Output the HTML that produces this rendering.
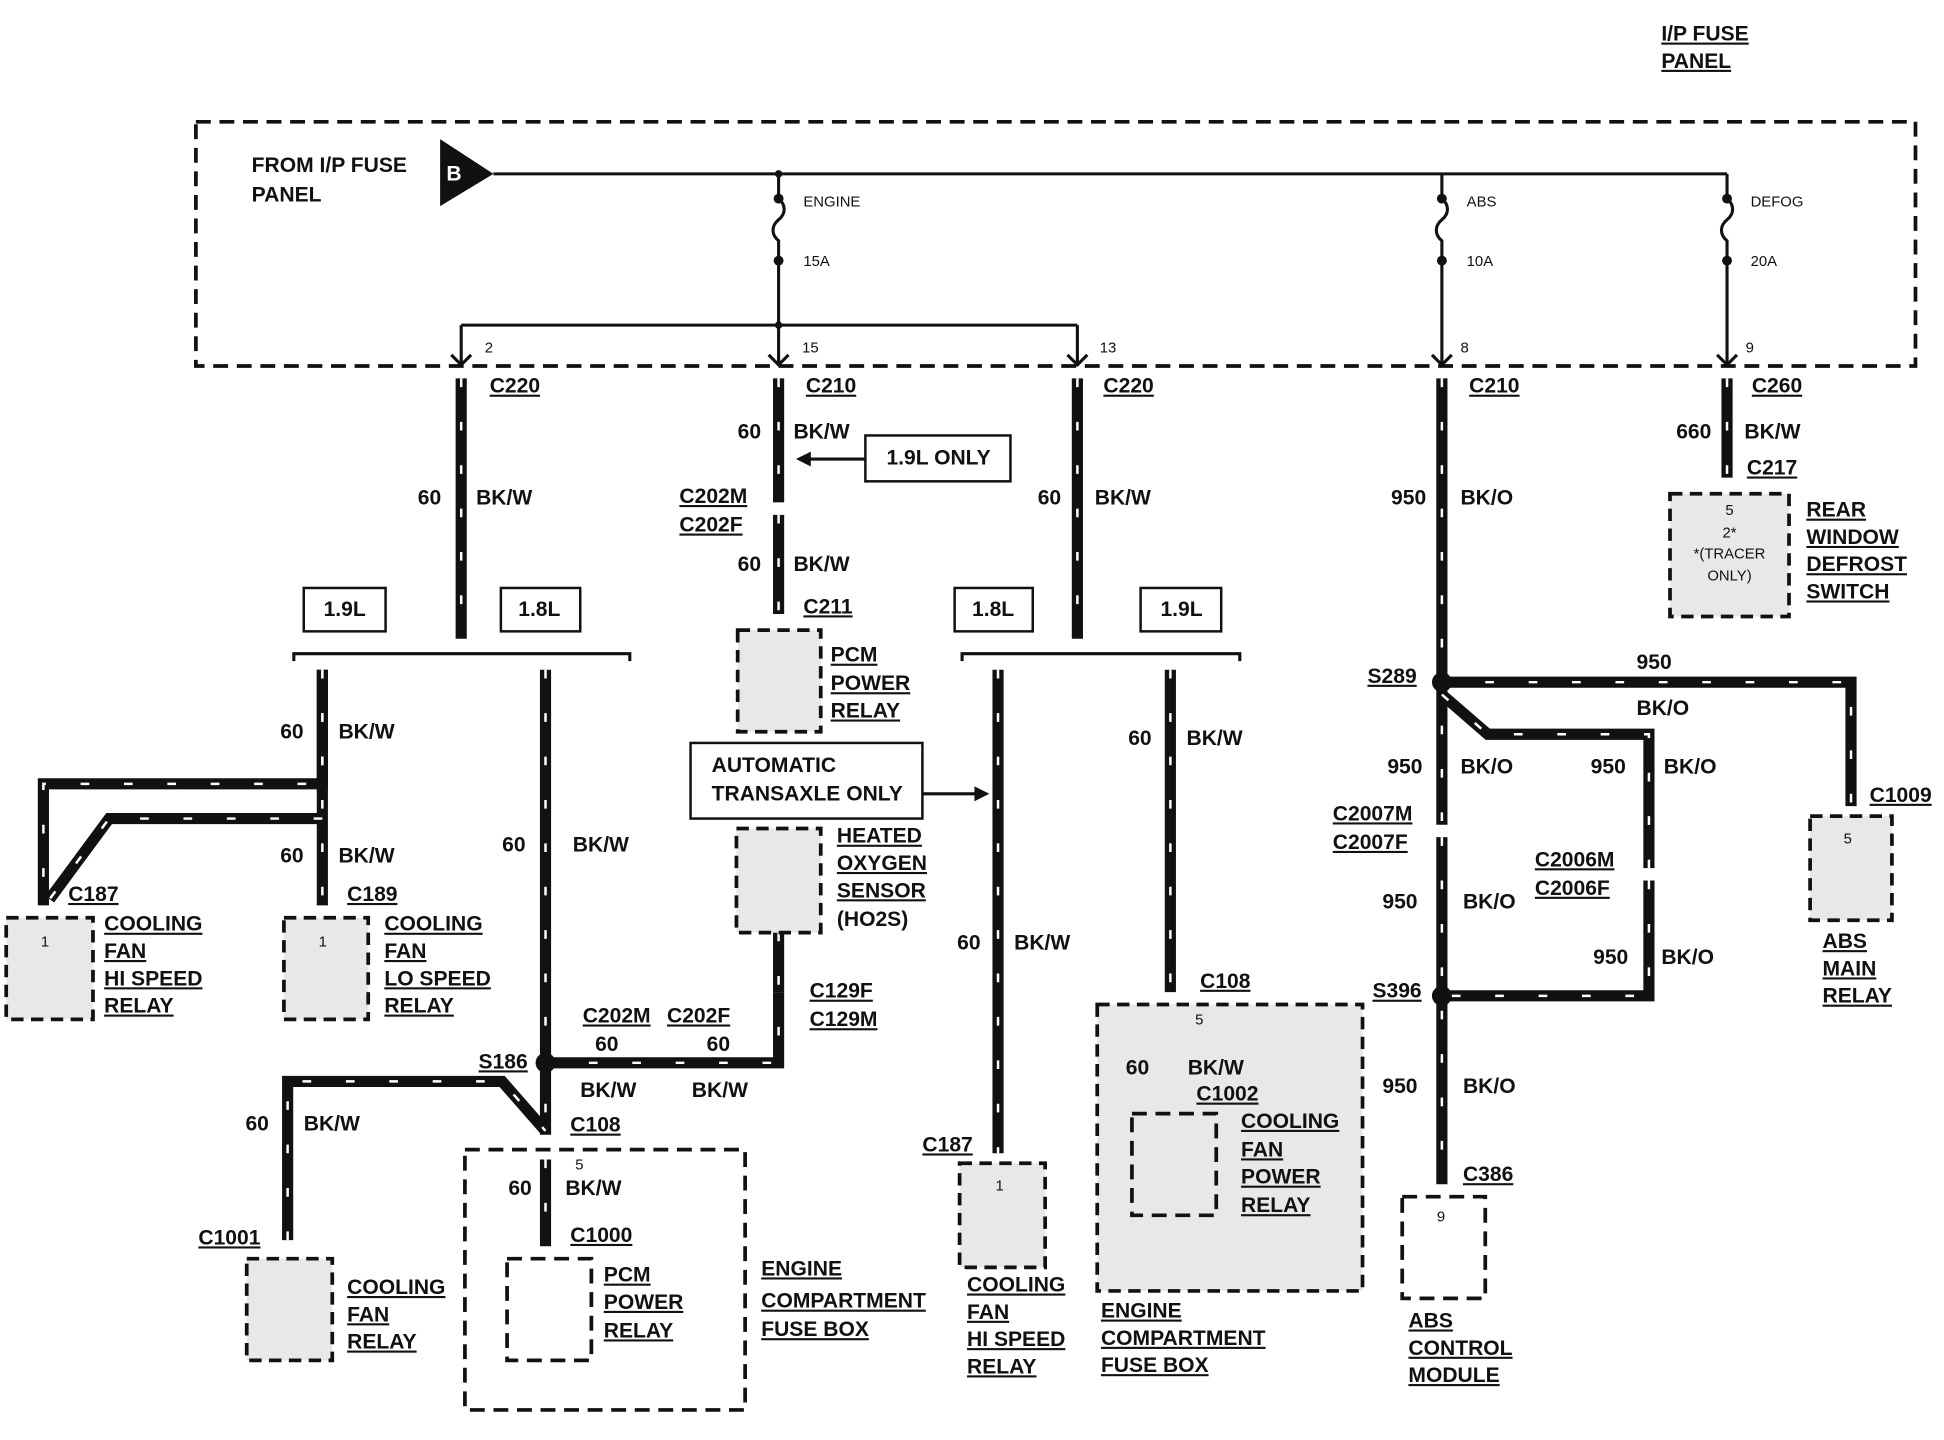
<!DOCTYPE html>
<html><head><meta charset="utf-8">
<style>
html,body{margin:0;padding:0;background:#fff;}
svg{display:block}
text{font-family:"Liberation Sans",Arial,sans-serif;font-weight:bold;font-size:17px;fill:#111;dominant-baseline:middle}
.u{text-decoration:underline}
.s{font-size:12px;font-weight:normal}
.bx{fill:#e8e8e8;stroke:#111;stroke-width:3;stroke-dasharray:10 6}
.bb{fill:none;stroke:#111;stroke-width:3;stroke-dasharray:12 7}
.sb{fill:#fff;stroke:#111;stroke-width:2}
.thin{stroke:#111;stroke-width:2.5;fill:none}
</style></head><body>
<svg width="1944" height="1440" viewBox="0 0 1568 1161" xmlns="http://www.w3.org/2000/svg">
<defs>
<g id="wires">
<path d="M372 305V515"/>
<path d="M628 305V405M628 415V495"/>
<path d="M869 305V515"/>
<path d="M1163 305V665M1163 675V955"/>
<path d="M1393 305V385"/>
<path d="M260 540V632H35V730"/>
<path d="M260 540V730"/>
<path d="M260 660H88L40 725"/>
<path d="M440 540V915"/>
<path d="M440 857H628V800"/>
<path d="M628 752V800"/>
<path d="M232 1000V872H405L440 912"/>
<path d="M440 935V1005"/>
<path d="M805 540V930"/>
<path d="M944 540V800"/>
<path d="M944 810V890"/>
<path d="M1163 550H1493V650"/>
<path d="M1163 560L1200 592H1330V700M1330 710V803H1163"/>
</g>
</defs>
<use href="#wires" style="fill:none;stroke:#111;stroke-width:9"/>
<use href="#wires" style="fill:none;stroke:#fff;stroke-width:2;stroke-dasharray:7 28"/>

<text x="1340" y="28" class="u">I/P FUSE</text>
<text x="1340" y="50" class="u">PANEL</text>
<rect x="158" y="98" width="1387" height="197" class="bb"/>
<text x="203" y="134">FROM I/P FUSE</text>
<text x="203" y="158">PANEL</text>
<polygon points="355,112 355,166 398,140" fill="#111"/>
<text x="360" y="141" style="fill:#fff;font-size:17px">B</text>
<path class="thin" d="M398 140H1393M628 140V160M628 210V295M1163 140V160M1163 210V295M1393 140V160M1393 210V295M372 262H869M372 262V295M869 262V295"/>
<path class="thin" d="M628 160c6 5 6 12 0 17c-6 5-6 12 0 17v16M1163 160c6 5 6 12 0 17c-6 5-6 12 0 17v16M1393 160c6 5 6 12 0 17c-6 5-6 12 0 17v16"/>
<g fill="#111"><circle cx="628" cy="160" r="4"/><circle cx="628" cy="210" r="4"/><circle cx="1163" cy="160" r="4"/><circle cx="1163" cy="210" r="4"/><circle cx="1393" cy="160" r="4"/><circle cx="1393" cy="210" r="4"/><circle cx="628" cy="140" r="3"/><circle cx="628" cy="262" r="3"/></g>
<path class="thin" d="M364 286l8 8 8-8M620 286l8 8 8-8M861 286l8 8 8-8M1155 286l8 8 8-8M1385 286l8 8 8-8"/>
<text x="648" y="163" class="s">ENGINE</text><text x="648" y="211" class="s">15A</text>
<text x="1183" y="163" class="s">ABS</text><text x="1183" y="211" class="s">10A</text>
<text x="1412" y="163" class="s">DEFOG</text><text x="1412" y="211" class="s">20A</text>
<text x="391" y="281" class="s">2</text><text x="647" y="281" class="s">15</text><text x="887" y="281" class="s">13</text><text x="1178" y="281" class="s">8</text><text x="1408" y="281" class="s">9</text>

<text x="395" y="312" class="u">C220</text><text x="650" y="312" class="u">C210</text><text x="890" y="312" class="u">C220</text><text x="1185" y="312" class="u">C210</text><text x="1413" y="312" class="u">C260</text>
<text x="337" y="402">60</text><text x="384" y="402">BK/W</text>
<text x="595" y="349">60</text><text x="640" y="349">BK/W</text>
<rect x="698" y="351" width="117" height="37" class="sb"/><text x="715" y="370">1.9L ONLY</text>
<path class="thin" d="M698 370H652"/><polygon points="642,370 654,364 654,376" fill="#111"/>
<text x="548" y="401" class="u">C202M</text><text x="548" y="424" class="u">C202F</text>
<text x="595" y="456">60</text><text x="640" y="456">BK/W</text>
<text x="648" y="490" class="u">C211</text>
<text x="837" y="402">60</text><text x="883" y="402">BK/W</text>
<text x="1122" y="402">950</text><text x="1178" y="402">BK/O</text>
<text x="1352" y="349">660</text><text x="1407" y="349">BK/W</text><text x="1409" y="378" class="u">C217</text>
<rect x="1347" y="398" width="96" height="99" class="bx"/>
<g class="s" text-anchor="middle"><text x="1395" y="412" class="s">5</text><text x="1395" y="430" class="s">2*</text><text x="1395" y="447" class="s">*(TRACER</text><text x="1395" y="465" class="s">ONLY)</text></g>
<text x="1457" y="412" class="u">REAR</text><text x="1457" y="434" class="u">WINDOW</text><text x="1457" y="456" class="u">DEFROST</text><text x="1457" y="478" class="u">SWITCH</text>

<rect x="245" y="474" width="66" height="35" class="sb"/><text x="261" y="492">1.9L</text>
<rect x="404" y="474" width="64" height="35" class="sb"/><text x="418" y="492">1.8L</text>
<rect x="770" y="474" width="63" height="35" class="sb"/><text x="784" y="492">1.8L</text>
<rect x="920" y="474" width="65" height="35" class="sb"/><text x="936" y="492">1.9L</text>
<path class="thin" d="M237 533V527H508V533M776 533V527H1000V533"/>

<rect x="595" y="508" width="67" height="82" class="bx"/>
<text x="670" y="529" class="u">PCM</text><text x="670" y="552" class="u">POWER</text><text x="670" y="574" class="u">RELAY</text>
<rect x="557" y="599" width="187" height="61" class="sb"/>
<text x="574" y="618">AUTOMATIC</text><text x="574" y="641">TRANSAXLE ONLY</text>
<path class="thin" d="M744 640H788"/><polygon points="798,640 786,634 786,646" fill="#111"/>
<rect x="594" y="668" width="68" height="84" class="bx"/>
<text x="675" y="675" class="u">HEATED</text><text x="675" y="697" class="u">OXYGEN</text><text x="675" y="719" class="u">SENSOR</text><text x="675" y="742">(HO2S)</text>

<text x="226" y="591">60</text><text x="273" y="591">BK/W</text>
<text x="226" y="691">60</text><text x="273" y="691">BK/W</text>
<text x="55" y="722" class="u">C187</text><text x="280" y="722" class="u">C189</text>
<rect x="5" y="740" width="70" height="82" class="bx"/><text x="33" y="760" class="s">1</text>
<text x="84" y="746" class="u">COOLING</text><text x="84" y="768" class="u">FAN</text><text x="84" y="790" class="u">HI SPEED</text><text x="84" y="812" class="u">RELAY</text>
<rect x="229" y="740" width="68" height="82" class="bx"/><text x="257" y="760" class="s">1</text>
<text x="310" y="746" class="u">COOLING</text><text x="310" y="768" class="u">FAN</text><text x="310" y="790" class="u">LO SPEED</text><text x="310" y="812" class="u">RELAY</text>

<text x="405" y="682">60</text><text x="462" y="682">BK/W</text>
<text x="386" y="857" class="u">S186</text><circle cx="440" cy="857" r="8" fill="#111"/>
<text x="653" y="800" class="u">C129F</text><text x="653" y="823" class="u">C129M</text>
<text x="470" y="820" class="u">C202M</text><text x="538" y="820" class="u">C202F</text>
<text x="480" y="843">60</text><text x="570" y="843">60</text>
<text x="468" y="880">BK/W</text><text x="558" y="880">BK/W</text>
<text x="198" y="907">60</text><text x="245" y="907">BK/W</text>
<text x="460" y="908" class="u">C108</text><text x="464" y="940" class="s">5</text>
<text x="410" y="959">60</text><text x="456" y="959">BK/W</text>
<text x="460" y="997" class="u">C1000</text><text x="160" y="999" class="u">C1001</text>
<rect x="375" y="927" width="226" height="210" class="bb"/>
<rect x="409" y="1015" width="68" height="82" class="bb"/>
<text x="487" y="1029" class="u">PCM</text><text x="487" y="1051" class="u">POWER</text><text x="487" y="1074" class="u">RELAY</text>
<text x="614" y="1024" class="u">ENGINE</text><text x="614" y="1050" class="u">COMPARTMENT</text><text x="614" y="1073" class="u">FUSE BOX</text>
<rect x="199" y="1015" width="69" height="82" class="bx"/>
<text x="280" y="1039" class="u">COOLING</text><text x="280" y="1061" class="u">FAN</text><text x="280" y="1083" class="u">RELAY</text>

<text x="772" y="761">60</text><text x="818" y="761">BK/W</text>
<text x="744" y="924" class="u">C187</text>
<rect x="774" y="938" width="69" height="84" class="bx"/><text x="803" y="957" class="s">1</text>
<text x="780" y="1037" class="u">COOLING</text><text x="780" y="1059" class="u">FAN</text><text x="780" y="1081" class="u">HI SPEED</text><text x="780" y="1103" class="u">RELAY</text>

<text x="910" y="596">60</text><text x="957" y="596">BK/W</text>
<text x="968" y="792" class="u">C108</text>
<rect x="885" y="810" width="214" height="231" class="bx"/>
<text x="964" y="823" class="s">5</text>
<text x="908" y="862">60</text><text x="958" y="862">BK/W</text><text x="965" y="883" class="u">C1002</text>
<rect x="913" y="898" width="68" height="82" class="bb"/>
<text x="1001" y="905" class="u">COOLING</text><text x="1001" y="928" class="u">FAN</text><text x="1001" y="950" class="u">POWER</text><text x="1001" y="973" class="u">RELAY</text>
<text x="888" y="1058" class="u">ENGINE</text><text x="888" y="1080" class="u">COMPARTMENT</text><text x="888" y="1102" class="u">FUSE BOX</text>

<text x="1103" y="546" class="u">S289</text><circle cx="1163" cy="550" r="8" fill="#111"/>
<text x="1320" y="535">950</text><text x="1320" y="572">BK/O</text>
<text x="1283" y="619">950</text><text x="1342" y="619">BK/O</text>
<text x="1238" y="694" class="u">C2006M</text><text x="1238" y="717" class="u">C2006F</text>
<text x="1285" y="773">950</text><text x="1340" y="773">BK/O</text>
<text x="1119" y="619">950</text><text x="1178" y="619">BK/O</text>
<text x="1075" y="657" class="u">C2007M</text><text x="1075" y="680" class="u">C2007F</text>
<text x="1115" y="728">950</text><text x="1180" y="728">BK/O</text>
<text x="1107" y="800" class="u">S396</text><circle cx="1163" cy="803" r="8" fill="#111"/>
<text x="1115" y="877">950</text><text x="1180" y="877">BK/O</text>
<text x="1180" y="948" class="u">C386</text>
<rect x="1131" y="965" width="67" height="82" class="bb"/><text x="1159" y="982" class="s">9</text>
<text x="1136" y="1066" class="u">ABS</text><text x="1136" y="1088" class="u">CONTROL</text><text x="1136" y="1110" class="u">MODULE</text>
<text x="1508" y="642" class="u">C1009</text>
<rect x="1460" y="658" width="66" height="84" class="bx"/><text x="1487" y="677" class="s">5</text>
<text x="1470" y="760" class="u">ABS</text><text x="1470" y="782" class="u">MAIN</text><text x="1470" y="804" class="u">RELAY</text>
</svg>
</body></html>
